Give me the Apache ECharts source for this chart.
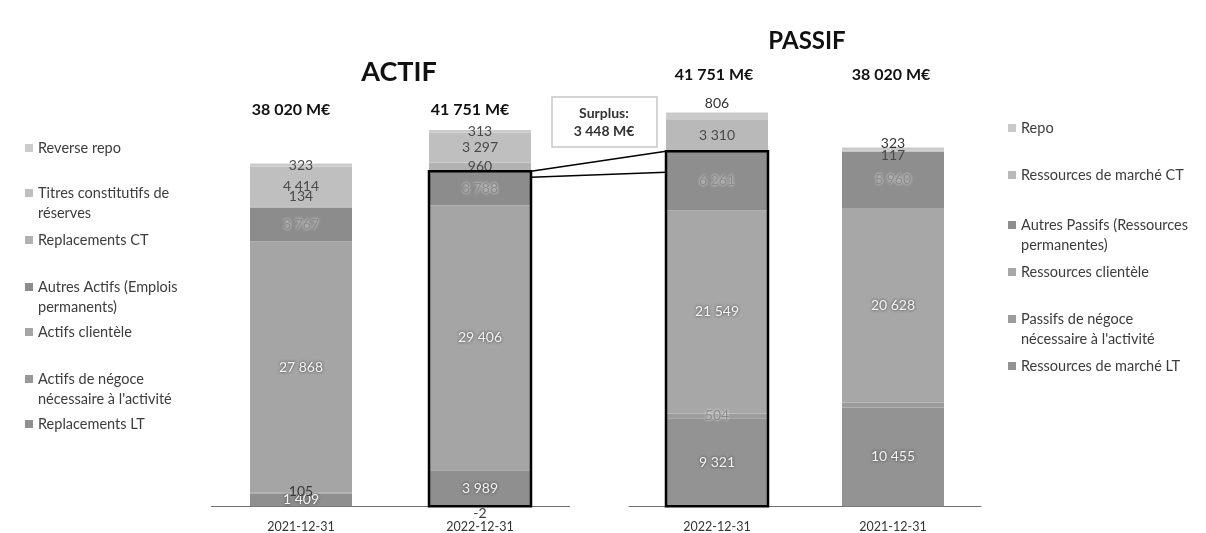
<!DOCTYPE html>
<html>
<head>
<meta charset="utf-8">
<script src="https://cdn.jsdelivr.net/npm/echarts@6/dist/echarts.min.js"></script>
<style>
  html, body { margin: 0; padding: 0; background: #fff; }
  #chart { width: 1206px; height: 533px; }
</style>
</head>
<body>
<div id="chart"></div>
<script>
// Bilan : emplois (ACTIF) et ressources (PASSIF), en M€
const actifCats = ['2021-12-31', '2022-12-31'];
const passifCats = ['2022-12-31', '2021-12-31'];

// ACTIF, in actifCats order
const replacementsLT = [1409, 3989];
const actifsNegoce = [105, -2];
const actifsClientele = [27868, 29406];
const autresActifs = [3767, 3788];
const replacementsCT = [134, 960];
const titresReserves = [4414, 3297];
const reverseRepo = [323, 313];

// PASSIF, in passifCats order
const ressourcesLT = [9321, 10455];
const passifsNegoce = [504, 537];
const ressourcesClientele = [21549, 20628];
const autresPassifs = [6261, 5960];
const ressourcesCT = [3310, 117];
const repo = [806, 323];

const surplusText = '3 448 M€';

const FONT = 'Lato, "Open Sans", sans-serif';
const BAR_W = 102;
const LABEL_SIZE = 14;
const LEGEND_SIZE = 14.5;
const LEGEND_COLOR = '#3c3c3c';

function fmt(v) {
  const s = String(Math.abs(v)).replace(/\B(?=(\d{3})+(?!\d))/g, ' ');
  return v < 0 ? '-' + s : s;
}
function sum(arrs, i) { return arrs.reduce((a, arr) => a + arr[i], 0); }

const lightLabel = { color: '#4a4a4a' };
const whiteLabel = { color: '#f4f4f4', textShadowColor: 'rgba(40,40,40,0.85)', textShadowBlur: 3 };
const greyLabel = { color: '#8a8a8a', textShadowColor: 'rgba(255,255,255,0.9)', textShadowBlur: 3 };

function barSeries(name, values, color, stack, axisIdx, labelStyle, overrides) {
  return {
    name, type: 'bar', stack, barWidth: BAR_W,
    xAxisIndex: axisIdx, yAxisIndex: axisIdx,
    itemStyle: { color },
    label: Object.assign({ show: true, position: 'inside', fontSize: LABEL_SIZE, fontFamily: FONT, formatter: p => fmt(p.value) }, labelStyle),
    data: values.map((v, i) => {
      const o = overrides && overrides[i];
      return o ? { value: v, label: o } : v;
    })
  };
}

const actifSeries = [
  barSeries('Replacements LT', replacementsLT, '#8f8f8f', 'actif', 0, whiteLabel),
  barSeries('Actifs de négoce nécessaire à l\'activité', actifsNegoce, '#999999', 'actif', 0, { color: '#3a3a3a' },
    [{ offset: [0, -2] }, { position: 'bottom', distance: 0 }]),
  barSeries('Actifs clientèle', actifsClientele, '#a5a5a5', 'actif', 0, whiteLabel),
  barSeries('Autres Actifs (Emplois permanents)', autresActifs, '#8c8c8c', 'actif', 0, greyLabel),
  barSeries('Replacements CT', replacementsCT, '#b2b2b2', 'actif', 0, lightLabel, [{ offset: [0, -10] }, null]),
  barSeries('Titres constitutifs de réserves', titresReserves, '#bfbfbf', 'actif', 0, lightLabel),
  barSeries('Reverse repo', reverseRepo, '#cbcbcb', 'actif', 0, lightLabel)
];

const passifSeries = [
  barSeries('Ressources de marché LT', ressourcesLT, '#939393', 'passif', 1, whiteLabel),
  barSeries('Passifs de négoce nécessaire à l\'activité', passifsNegoce, '#9c9c9c', 'passif', 1, greyLabel,
    [null, { show: false }]),
  barSeries('Ressources clientèle', ressourcesClientele, '#a7a7a7', 'passif', 1, whiteLabel),
  barSeries('Autres Passifs (Ressources permanentes)', autresPassifs, '#8e8e8e', 'passif', 1, greyLabel),
  barSeries('Ressources de marché CT', ressourcesCT, '#b9b9b9', 'passif', 1, lightLabel, [null, { offset: [0, 4] }]),
  barSeries('Repo', repo, '#cacaca', 'passif', 1, lightLabel,
    [{ position: 'top', distance: 2, color: '#333' }, { position: 'top', distance: -3, color: '#333' }])
];

// legend entries: series name, first line, continuation line, centre of the first line
const leftLegend = [
  ['Reverse repo', 'Reverse repo', '', 148],
  ['Titres constitutifs de réserves', 'Titres constitutifs de', 'réserves', 193],
  ['Replacements CT', 'Replacements CT', '', 240],
  ['Autres Actifs (Emplois permanents)', 'Autres Actifs (Emplois', 'permanents)', 287],
  ['Actifs clientèle', 'Actifs clientèle', '', 332],
  ['Actifs de négoce nécessaire à l\'activité', 'Actifs de négoce', 'nécessaire à l\'activité', 379],
  ['Replacements LT', 'Replacements LT', '', 424]
];
const rightLegend = [
  ['Repo', 'Repo', '', 128],
  ['Ressources de marché CT', 'Ressources de marché CT', '', 175],
  ['Autres Passifs (Ressources permanentes)', 'Autres Passifs (Ressources', 'permanentes)', 225],
  ['Ressources clientèle', 'Ressources clientèle', '', 272],
  ['Passifs de négoce nécessaire à l\'activité', 'Passifs de négoce', 'nécessaire à l\'activité', 319],
  ['Ressources de marché LT', 'Ressources de marché LT', '', 366]
];
const LINE_H = 20;
function legendItems(list, left) {
  return list.map(([name, first, rest, cy]) => ({
    data: [name], left, top: cy - LINE_H / 2, padding: 0,
    orient: 'vertical', icon: 'rect', itemWidth: 8, itemHeight: 8,
    selectedMode: false,
    formatter: () => first,
    textStyle: { fontFamily: FONT, fontSize: LEGEND_SIZE, color: LEGEND_COLOR, lineHeight: LINE_H }
  }));
}
// second line of the wrapped legend names, aligned under the first line
function legendWraps(list, textX) {
  return list.filter(r => r[2]).map(([name, first, rest, cy]) => ({
    type: 'text', x: textX, y: cy + LINE_H, z: 10,
    style: { text: rest, fill: LEGEND_COLOR, font: LEGEND_SIZE + 'px ' + FONT, align: 'left', verticalAlign: 'middle' }
  }));
}

function xAxisCfg(cats, grid) {
  return {
    type: 'category', data: cats, gridIndex: grid,
    axisLine: { onZero: true, lineStyle: { color: '#6f6f6f', width: 1 } },
    axisTick: { show: false },
    axisLabel: { fontFamily: FONT, fontSize: 12.5, color: '#333', margin: 11 }
  };
}
function yAxisCfg(grid) {
  return { type: 'value', gridIndex: grid, min: -300, max: 45000, show: false, splitLine: { show: false } };
}

const chart = echarts.init(document.getElementById('chart'));
chart.setOption({
  backgroundColor: '#ffffff',
  animation: false,
  grid: [
    { left: 211.5, width: 358, top: 100.7, bottom: 23.3 },
    { left: 629, width: 352, top: 81.8, bottom: 23.2 }
  ],
  xAxis: [xAxisCfg(actifCats, 0), xAxisCfg(passifCats, 1)],
  yAxis: [yAxisCfg(0), yAxisCfg(1)],
  legend: legendItems(leftLegend, 25).concat(legendItems(rightLegend, 1008)),
  series: actifSeries.concat(passifSeries)
});

// totals above each column, from the stacked values
const actifArrs = [replacementsLT, actifsNegoce, actifsClientele, autresActifs, replacementsCT, titresReserves, reverseRepo];
const passifArrs = [ressourcesLT, passifsNegoce, ressourcesClientele, autresPassifs, ressourcesCT, repo];
const actifTotals = actifCats.map((c, i) => sum(actifArrs, i));
const passifTotals = passifCats.map((c, i) => sum(passifArrs, i));

function txt(text, x, y, size, color) {
  return {
    type: 'text', x, y, z: 10,
    style: { text, fill: color || '#111', font: 'bold ' + size + 'px ' + FONT, align: 'center', verticalAlign: 'middle' }
  };
}

// long-term blocks (everything up to "Autres") outlined on the 2022 columns
const aTop = sum([replacementsLT, actifsNegoce, actifsClientele, autresActifs], 1);
const pTop = sum([ressourcesLT, passifsNegoce, ressourcesClientele, autresPassifs], 0);
const aT = chart.convertToPixel({ xAxisIndex: 0, yAxisIndex: 0 }, [1, aTop]);
const aB = chart.convertToPixel({ xAxisIndex: 0, yAxisIndex: 0 }, [1, 0]);
const pT = chart.convertToPixel({ xAxisIndex: 1, yAxisIndex: 1 }, [0, pTop]);
const pB = chart.convertToPixel({ xAxisIndex: 1, yAxisIndex: 1 }, [0, 0]);
const half = BAR_W / 2;

const graphics = [
  txt('ACTIF', 399, 72, 27),
  txt('PASSIF', 807, 41, 24),
  txt(fmt(actifTotals[0]) + ' M€', 291, 110, 16),
  txt(fmt(actifTotals[1]) + ' M€', 470, 110, 16),
  txt(fmt(passifTotals[0]) + ' M€', 714, 75, 16),
  txt(fmt(passifTotals[1]) + ' M€', 891, 75, 16),
  {
    type: 'rect', z: 10,
    shape: { x: 552, y: 97, width: 105, height: 50 },
    style: { fill: '#fff', stroke: '#c8c8c8', lineWidth: 1.5 }
  },
  txt('Surplus:', 604, 113, 14, '#333'),
  txt(surplusText, 604, 131, 14, '#333'),
  {
    type: 'rect', z: 10,
    shape: { x: aT[0] - half, y: aT[1], width: BAR_W, height: aB[1] - aT[1] },
    style: { fill: 'none', stroke: '#000', lineWidth: 2.5 }
  },
  {
    type: 'rect', z: 10,
    shape: { x: pT[0] - half, y: pT[1], width: BAR_W, height: pB[1] - pT[1] },
    style: { fill: 'none', stroke: '#000', lineWidth: 2.5 }
  },
  {
    type: 'line', z: 10,
    shape: { x1: aT[0] + half, y1: aT[1], x2: pT[0] - half, y2: pT[1] },
    style: { stroke: '#000', lineWidth: 1.5 }
  },
  {
    type: 'line', z: 10,
    shape: { x1: aT[0] + half, y1: aT[1] + 6, x2: pT[0] - half, y2: pT[1] + 21 },
    style: { stroke: '#000', lineWidth: 1.5 }
  }
].concat(legendWraps(leftLegend, 38), legendWraps(rightLegend, 1021));
chart.setOption({ graphic: graphics });
</script>
</body>
</html>
